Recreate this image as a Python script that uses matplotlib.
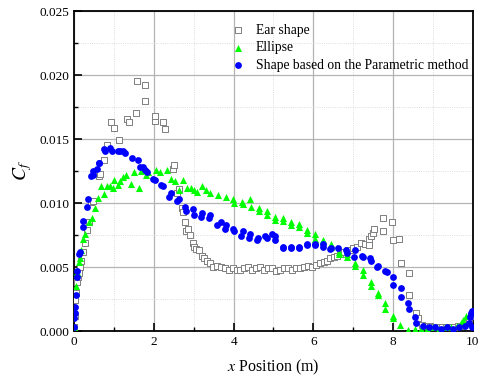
import numpy as np
import matplotlib
matplotlib.use('Agg')
import matplotlib.pyplot as plt
from matplotlib.ticker import MultipleLocator

plt.rcParams['font.family'] = ['Liberation Serif', 'DejaVu Serif']
plt.rcParams['mathtext.fontset'] = 'stix'

# Skin friction coefficient along the body, three shapes
ear_x = [0.00, 0.02, 0.03, 0.05, 0.08, 0.10, 0.12, 0.15, 0.18, 0.22,
         0.27, 0.32, 0.37, 0.42, 0.47, 0.62, 0.65, 0.74, 0.82, 0.92,
         1.00, 1.12, 1.34, 1.39, 1.55, 1.59, 1.79, 1.79, 2.02, 2.04,
         2.24, 2.27, 2.47, 2.51, 2.59, 2.62, 2.71, 2.72, 2.79, 2.81,
         2.86, 2.91, 2.97, 3.02, 3.07, 3.14, 3.20, 3.27, 3.34, 3.41,
         3.48, 3.58, 3.68, 3.78, 3.88, 3.98, 4.08, 4.16, 4.26, 4.36,
         4.46, 4.56, 4.66, 4.76, 4.86, 4.96, 5.06, 5.16, 5.26, 5.36,
         5.46, 5.56, 5.66, 5.76, 5.86, 5.96, 6.06, 6.16, 6.26, 6.33,
         6.43, 6.53, 6.60, 6.67, 6.77, 6.87, 6.95, 7.00, 7.10, 7.20,
         7.30, 7.39, 7.40, 7.45, 7.50, 7.52, 7.74, 7.75, 7.97, 7.99,
         8.15, 8.20, 8.39, 8.40, 8.57, 8.62, 8.72, 8.82, 8.92, 9.02,
         9.12, 9.22, 9.32, 9.42, 9.52, 9.62, 9.72, 9.82, 9.90, 9.96]
ear_cf = [0.0003, 0.0012, 0.0024, 0.0030, 0.0038, 0.0042, 0.0045, 0.0050, 0.0055, 0.0062,
          0.0069, 0.0079, 0.0085, 0.0101, 0.0102, 0.0121, 0.0123, 0.0134, 0.0145, 0.0163,
          0.0159, 0.0149, 0.0166, 0.0163, 0.0170, 0.0195, 0.0192, 0.0180, 0.0164, 0.0168,
          0.0163, 0.0158, 0.0127, 0.0130, 0.0108, 0.0111, 0.0096, 0.0093, 0.0085, 0.0078,
          0.0080, 0.0075, 0.0069, 0.0066, 0.0064, 0.0063, 0.0059, 0.0057, 0.0055, 0.0053,
          0.0050, 0.0051, 0.0050, 0.0049, 0.0048, 0.0049, 0.0048, 0.0048, 0.0049, 0.0050,
          0.0048, 0.0049, 0.0050, 0.0048, 0.0049, 0.0049, 0.0047, 0.0048, 0.0049, 0.0049,
          0.0048, 0.0049, 0.0049, 0.0050, 0.0051, 0.0050, 0.0052, 0.0053, 0.0054, 0.0055,
          0.0057, 0.0058, 0.0059, 0.0060, 0.0062, 0.0063, 0.0063, 0.0065, 0.0066, 0.0069,
          0.0068, 0.0067, 0.0072, 0.0074, 0.0077, 0.0080, 0.0088, 0.0078, 0.0085, 0.0071,
          0.0072, 0.0053, 0.0045, 0.0028, 0.0014, 0.0010, 0.0005, 0.0004, 0.0004, 0.0003,
          0.0003, 0.0003, 0.0003, 0.0003, 0.0003, 0.0004, 0.0004, 0.0006, 0.0008, 0.0012]

ell_x = [0.00, 0.02, 0.05, 0.08, 0.12, 0.15, 0.18, 0.23, 0.28, 0.37,
         0.45, 0.52, 0.60, 0.68, 0.75, 0.82, 0.90, 0.97, 1.00, 1.09,
         1.15, 1.23, 1.31, 1.44, 1.50, 1.62, 1.69, 1.80, 1.85, 2.06,
         2.16, 2.34, 2.42, 2.54, 2.64, 2.74, 2.82, 2.92, 3.00, 3.09,
         3.21, 3.32, 3.41, 3.61, 3.81, 3.99, 4.01, 4.21, 4.23, 4.41,
         4.43, 4.63, 4.63, 4.83, 4.83, 5.03, 5.05, 5.23, 5.25, 5.43,
         5.45, 5.63, 5.65, 5.85, 5.85, 6.05, 6.05, 6.25, 6.25, 6.45,
         6.45, 6.65, 6.65, 6.85, 6.85, 7.05, 7.05, 7.25, 7.25, 7.44,
         7.44, 7.62, 7.62, 7.80, 7.80, 7.99, 7.99, 8.17, 8.37, 8.55,
         8.70, 8.85, 9.00, 9.15, 9.30, 9.45, 9.60, 9.70, 9.76, 9.84,
         9.92, 9.97]
ell_cf = [0.0003, 0.0016, 0.0035, 0.0046, 0.0054, 0.0057, 0.0063, 0.0072, 0.0076, 0.0085,
          0.0088, 0.0096, 0.0104, 0.0113, 0.0107, 0.0113, 0.0113, 0.0112, 0.0118, 0.0114,
          0.0117, 0.0120, 0.0122, 0.0115, 0.0124, 0.0112, 0.0125, 0.0122, 0.0124, 0.0126,
          0.0124, 0.0126, 0.0119, 0.0117, 0.0110, 0.0118, 0.0112, 0.0112, 0.0110, 0.0109,
          0.0113, 0.0110, 0.0108, 0.0106, 0.0105, 0.0103, 0.0100, 0.0101, 0.0099, 0.0103,
          0.0097, 0.0096, 0.0094, 0.0094, 0.0091, 0.0089, 0.0087, 0.0088, 0.0086, 0.0085,
          0.0083, 0.0084, 0.0081, 0.0079, 0.0077, 0.0076, 0.0072, 0.0071, 0.0070, 0.0068,
          0.0066, 0.0062, 0.0060, 0.0060, 0.0058, 0.0053, 0.0051, 0.0048, 0.0044, 0.0038,
          0.0035, 0.0030, 0.0028, 0.0022, 0.0017, 0.0012, 0.0010, 0.0005, 0.0001, 0.0002,
          0.0002, 0.0002, 0.0003, 0.0002, 0.0003, 0.0003, 0.0004, 0.0006, 0.0009, 0.0012,
          0.0014, 0.0015]

par_x = [0.00, 0.01, 0.02, 0.03, 0.05, 0.07, 0.08, 0.13, 0.15, 0.22,
         0.23, 0.32, 0.35, 0.43, 0.47, 0.48, 0.58, 0.62, 0.63, 0.74,
         0.77, 0.89, 0.94, 1.09, 1.14, 1.22, 1.27, 1.45, 1.60, 1.65,
         1.74, 1.79, 1.84, 1.99, 2.04, 2.19, 2.22, 2.37, 2.42, 2.57,
         2.62, 2.77, 2.81, 2.97, 3.00, 3.18, 3.21, 3.38, 3.41, 3.59,
         3.69, 3.79, 3.82, 3.99, 4.01, 4.19, 4.23, 4.38, 4.41, 4.58,
         4.61, 4.79, 4.83, 4.96, 5.03, 5.05, 5.23, 5.25, 5.43, 5.45,
         5.63, 5.65, 5.83, 5.85, 6.03, 6.05, 6.23, 6.25, 6.43, 6.45,
         6.63, 6.82, 6.84, 7.02, 7.05, 7.22, 7.25, 7.42, 7.44, 7.59,
         7.62, 7.80, 7.84, 7.99, 8.00, 8.19, 8.20, 8.37, 8.40, 8.54,
         8.57, 8.74, 8.90, 9.05, 9.20, 9.35, 9.50, 9.65, 9.80, 9.90,
         9.93, 9.95, 9.97, 9.99]
par_cf = [0.0003, 0.0010, 0.0014, 0.0019, 0.0028, 0.0042, 0.0047, 0.0060, 0.0062, 0.0081,
          0.0086, 0.0097, 0.0103, 0.0121, 0.0125, 0.0122, 0.0127, 0.0131, 0.0131, 0.0142,
          0.0141, 0.0143, 0.0141, 0.0141, 0.0141, 0.0141, 0.0139, 0.0135, 0.0134, 0.0128,
          0.0128, 0.0126, 0.0124, 0.0119, 0.0118, 0.0114, 0.0113, 0.0105, 0.0108, 0.0102,
          0.0103, 0.0097, 0.0094, 0.0095, 0.0091, 0.0089, 0.0092, 0.0088, 0.0091, 0.0083,
          0.0085, 0.0080, 0.0083, 0.0080, 0.0078, 0.0074, 0.0078, 0.0073, 0.0076, 0.0071,
          0.0073, 0.0074, 0.0073, 0.0076, 0.0074, 0.0071, 0.0066, 0.0065, 0.0066, 0.0065,
          0.0065, 0.0066, 0.0068, 0.0067, 0.0068, 0.0067, 0.0068, 0.0066, 0.0064, 0.0065,
          0.0065, 0.0063, 0.0061, 0.0058, 0.0063, 0.0059, 0.0058, 0.0057, 0.0055, 0.0050,
          0.0051, 0.0047, 0.0046, 0.0042, 0.0036, 0.0034, 0.0027, 0.0022, 0.0017, 0.0011,
          0.0006, 0.0004, 0.0003, 0.0003, 0.0002, 0.0003, 0.0002, 0.0003, 0.0004, 0.0006,
          0.0011, 0.0014, 0.0016, 0.0003]

fig = plt.figure(figsize=(4.84, 3.81), dpi=100)
ax = fig.add_axes([0.153, 0.131, 0.824, 0.840])

ax.scatter(ear_x, ear_cf, marker='s', s=14, facecolors='white', edgecolors='#7f7f7f',
           linewidths=0.7, label='Ear shape', zorder=3)
ax.scatter(ell_x, ell_cf, marker='^', s=26, color='#00ff00', linewidths=0,
           label='Ellipse', zorder=4)
ax.scatter(par_x, par_cf, marker='o', s=24, color='#0000ff', linewidths=0,
           label='Shape based on the Parametric method', zorder=5)

ax.set_xlim(0, 10)
ax.set_ylim(0, 0.025)
ax.xaxis.set_major_locator(MultipleLocator(2))
ax.xaxis.set_minor_locator(MultipleLocator(1))
ax.yaxis.set_major_locator(MultipleLocator(0.005))
ax.yaxis.set_minor_locator(MultipleLocator(0.0025))
ax.yaxis.set_major_formatter(matplotlib.ticker.FormatStrFormatter('%.3f'))

ax.grid(which='major', color='#b4b4b4', linewidth=0.9, zorder=0)
ax.grid(which='minor', color='#d0d0d0', linewidth=0.6, linestyle=':', zorder=0)
ax.set_axisbelow(True)

ax.tick_params(which='major', direction='in', length=6, width=1.2, labelsize=9.5,
               top=False, right=False)
ax.tick_params(which='minor', direction='in', length=3, width=1.0,
               top=False, right=False)
for s in ax.spines.values():
    s.set_linewidth(1.3)

ax.set_xlabel('$x$ Position (m)', fontsize=11.5, labelpad=7)
ax.set_ylabel('$C_f$', fontsize=14, labelpad=4)

ax.legend(loc='upper left', bbox_to_anchor=(0.35, 0.995), frameon=False,
          fontsize=9.8, handletextpad=0.3, labelspacing=0.35, borderpad=0.3)

fig.savefig('out.png', dpi=100)
